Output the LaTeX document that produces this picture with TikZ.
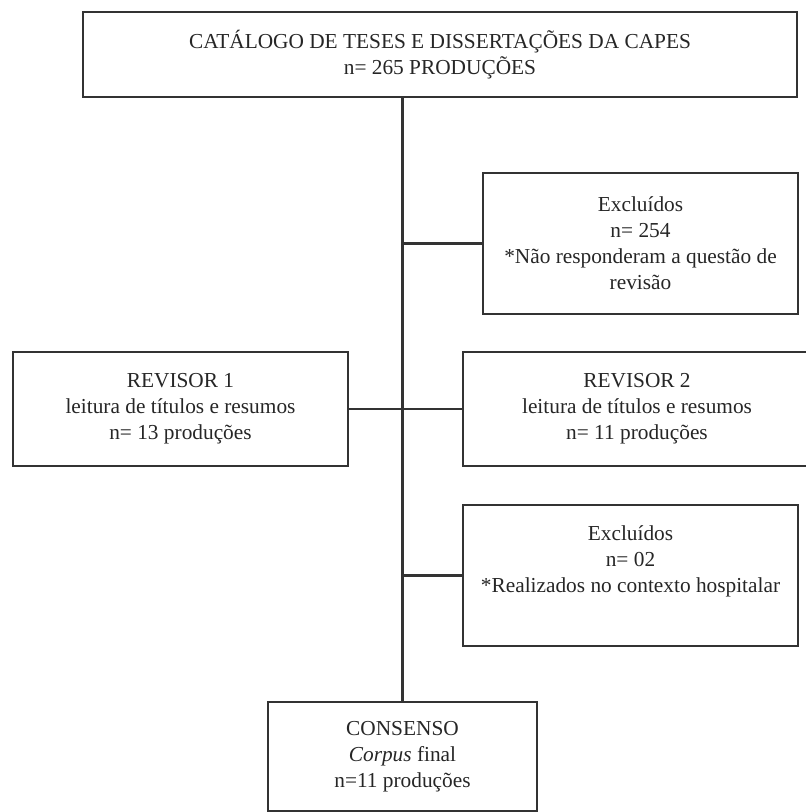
\documentclass[tikz,border=0pt]{standalone}
\usepackage{fontspec}
\setmainfont{Liberation Serif}
\begin{document}
\begin{tikzpicture}[x=0.75pt,y=-0.75pt,
  box/.style={draw=black!80, line width=1.6pt, rectangle, align=center, inner sep=0pt,
    text=black!85, font=\fontsize{16}{19.5}\selectfont},
  conn/.style={draw=black!80, line width=1.6pt}]
\useasboundingbox (0,0) rectangle (805,812);
\node[box, minimum width=535.5pt, minimum height=63.75pt] (top) at (440,54.5)
  {CATÁLOGO DE TESES E DISSERTAÇÕES DA CAPES\\n= 265 PRODUÇÕES};
\node[box, minimum width=236.25pt, minimum height=105.75pt] (exc1) at (640.5,243.5)
  {Excluídos\\n= 254\\*Não responderam a questão de\\revisão};
\node[box, minimum width=251.25pt, minimum height=85.5pt] (rev1) at (180.5,409)
  {REVISOR 1\\leitura de títulos e resumos\\n= 13 produções};
\node[box, minimum width=261pt, minimum height=85.5pt] (rev2) at (637,409)
  {REVISOR 2\\leitura de títulos e resumos\\n= 11 produções};
\node[box, minimum width=251.25pt, minimum height=105.75pt] (exc2) at (630.5,575.5)
  {Excluídos\\n= 02\\*Realizados no contexto hospitalar\\\strut};
\node[box, minimum width=201.75pt, minimum height=81.75pt] (cons) at (402.5,756.5)
  {CONSENSO\\\textit{Corpus} final\\n=11 produções};
\coordinate (jtop) at (cons.north |- top.south);
\coordinate (j1) at (cons.north |- exc1.west);
\coordinate (j2) at (cons.north |- exc2.west);
\draw[conn] (jtop) -- (cons.north);
\draw[conn] (j1) -- (exc1.west);
\draw[conn] (rev1.east) -- (rev2.west);
\draw[conn] (j2) -- (exc2.west);
\end{tikzpicture}
\end{document}
